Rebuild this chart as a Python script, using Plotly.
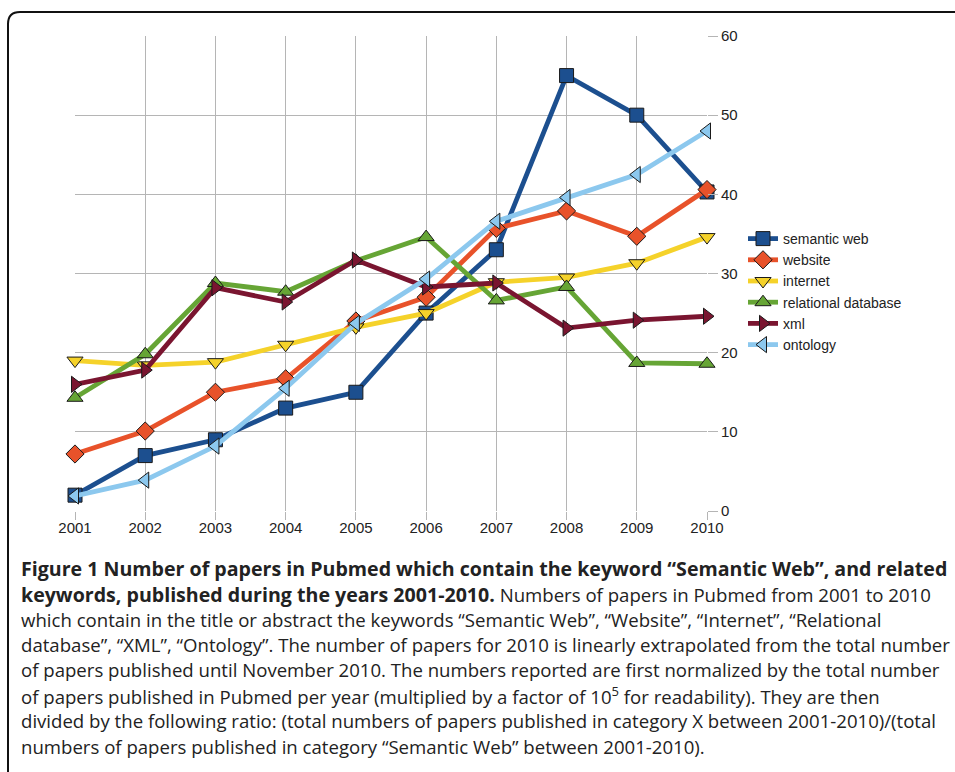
import plotly.graph_objects as go

years = [2001, 2002, 2003, 2004, 2005, 2006, 2007, 2008, 2009, 2010]
semantic_web = [2, 7, 9, 13, 15, 25, 33, 55, 50, 40.3]
website = [7.2, 10.1, 15, 16.7, 24, 27, 35.7, 37.9, 34.7, 40.6]
internet = [19, 18.4, 18.8, 21, 23.2, 25, 28.9, 29.5, 31.3, 34.6]
relational_database = [14.3, 19.8, 28.8, 27.7, 31.6, 34.6, 26.6, 28.3, 18.7, 18.6]
xml = [16, 17.8, 28.2, 26.4, 31.7, 28.3, 28.8, 23.1, 24.1, 24.6]
ontology = [1.9, 3.9, 8.2, 15.5, 23.7, 29.3, 36.6, 39.6, 42.5, 48]
y_ticks = [0, 10, 20, 30, 40, 50, 60]

series = [
    ("semantic web", semantic_web, "#1c4f8f", "square"),
    ("website", website, "#e8522a", "diamond"),
    ("internet", internet, "#f5d22a", "triangle-down"),
    ("relational database", relational_database, "#66a535", "triangle-up"),
    ("xml", xml, "#7a1530", "triangle-right"),
    ("ontology", ontology, "#8cc8ee", "triangle-left"),
]

W, H = 955, 772
L, R, T, B = 75, 707, 36, 511

def px(x):
    return (x - L) / (R - L)

def py(y):
    return (B - y) / (B - T)

fig = go.Figure()
for name, vals, color, sym in series:
    fig.add_trace(go.Scatter(
        x=years, y=vals, name=name, mode="lines+markers",
        line=dict(color=color, width=4.8),
        marker=dict(symbol=sym, size=14, color=color,
                    line=dict(color="#1a1a1a", width=1)),
        cliponaxis=False,
    ))

BS = '<span style="font-size:19.6px"><b>'
BE = '</b></span>'
caption = [
    BS + "Figure 1 Number of papers in Pubmed which contain the keyword “Semantic Web”, and related" + BE,
    BS + "keywords, published during the years 2001-2010." + BE + " Numbers of papers in Pubmed from 2001 to 2010",
    "which contain in the title or abstract the keywords “Semantic Web”, “Website”, “Internet”, “Relational",
    "database”, “XML”, “Ontology”. The number of papers for 2010 is linearly extrapolated from the total number",
    "of papers published until November 2010. The numbers reported are first normalized by the total number",
    "of papers published in Pubmed per year (multiplied by a factor of 10<sup>5</sup> for readability). They are then",
    "divided by the following ratio: (total numbers of papers published in category X between 2001-2010)/(total",
    "numbers of papers published in category “Semantic Web” between 2001-2010).",
]
line_y = [568, 594, 619, 644, 669, 695, 720, 746]
annotations = []
for txt, yy in zip(caption, line_y):
    annotations.append(dict(
        text=txt, x=px(19), y=py(yy), xref="paper", yref="paper",
        xanchor="left", yanchor="middle", showarrow=False,
        font=dict(family="Open Sans, sans-serif", size=18.6, color="#222222"),
    ))

r = 12
frame_path = (f"M {px(8)} {py(790)} L {px(8)} {py(12 + r)} "
              f"Q {px(8)} {py(12)} {px(8 + r)} {py(12)} L {px(970)} {py(12)}")

fig.update_layout(
    width=W, height=H,
    margin=dict(l=L, r=W - R, t=T, b=H - B),
    paper_bgcolor="white", plot_bgcolor="white",
    font=dict(family="Liberation Sans, Arial, sans-serif", size=15, color="#222222"),
    xaxis=dict(range=[2001, 2010], tickvals=years, ticktext=[str(y) for y in years],
               showgrid=True, gridcolor="#b5b5b5", gridwidth=1, zeroline=False,
               ticks="outside", ticklen=8, tickcolor="#b5b5b5", tickwidth=1,
               ticklabelstandoff=-5,
               tickfont=dict(size=15, color="#222222")),
    yaxis=dict(range=[0, 60], tickvals=y_ticks, side="right",
               showgrid=True, gridcolor="#b5b5b5", gridwidth=1, zeroline=False,
               ticks="outside", ticklen=10, tickcolor="#b5b5b5", tickwidth=1,
               tickfont=dict(size=15, color="#222222")),
    legend=dict(x=px(743), y=py(223), xanchor="left", yanchor="top",
                font=dict(size=14, color="#222222"), itemwidth=30,
                tracegroupgap=0, bgcolor="rgba(0,0,0,0)"),
    annotations=annotations,
    shapes=[dict(type="path", path=frame_path, xref="paper", yref="paper",
                 line=dict(color="#111111", width=2))],
    showlegend=True,
)

fig.write_html("out.html", config={"displayModeBar": False},
               post_script="document.body.style.margin='0px';")
